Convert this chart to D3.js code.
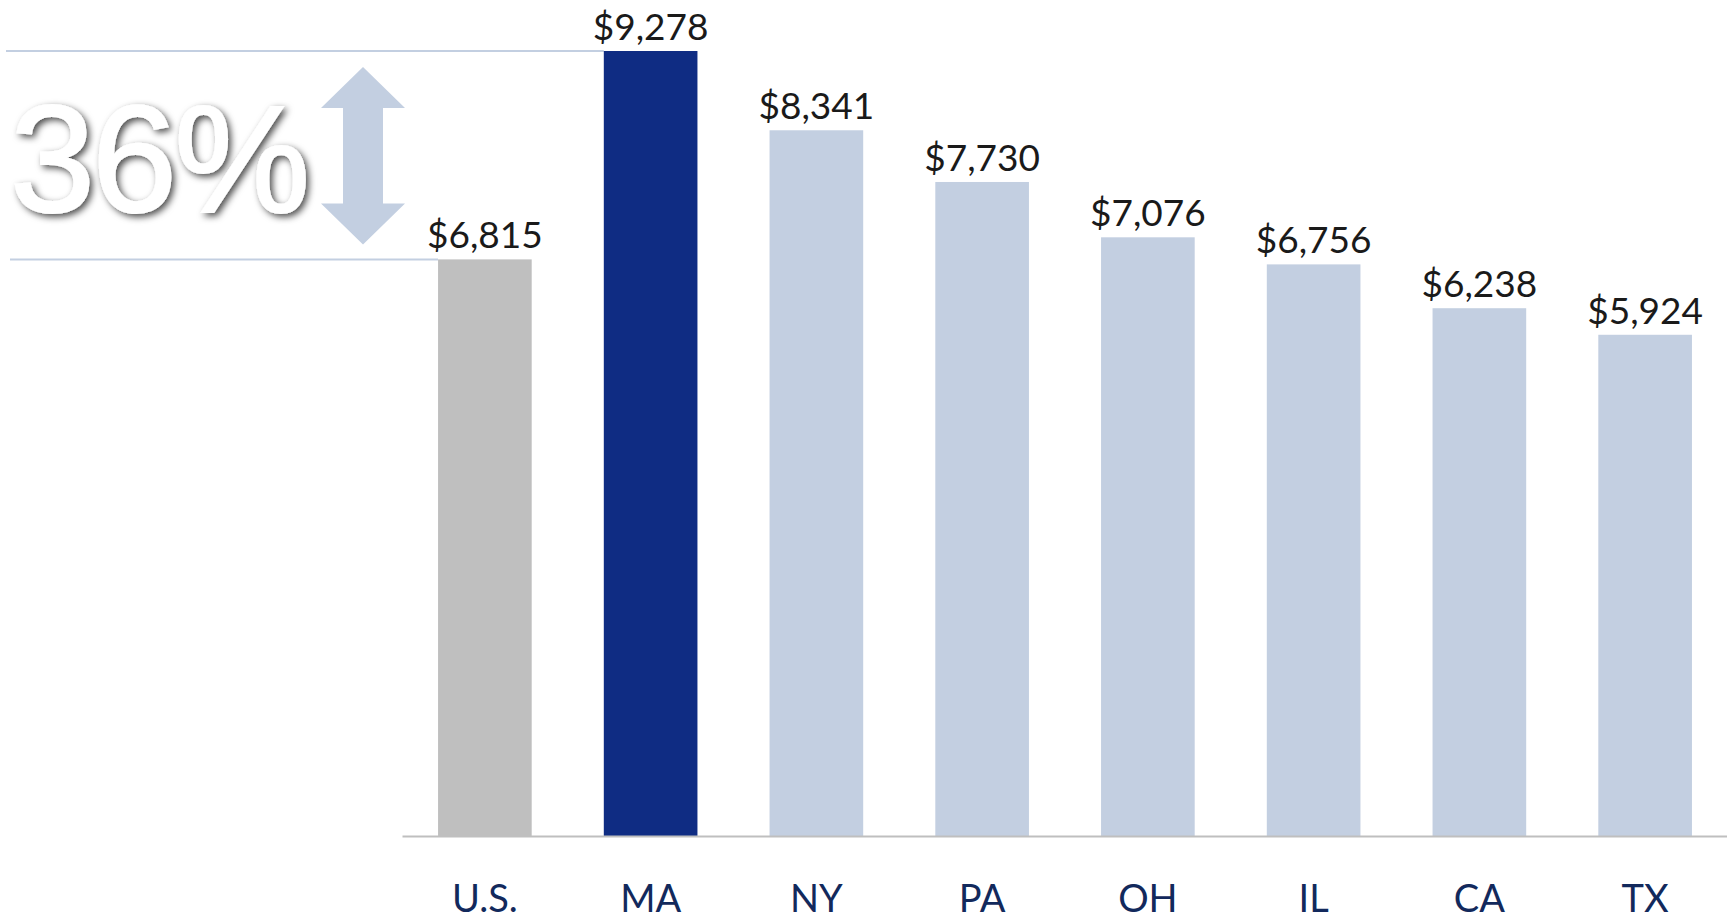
<!DOCTYPE html>
<html>
<head>
<meta charset="utf-8">
<script src="https://cdn.jsdelivr.net/npm/d3@7"></script>
<style>
  html, body { margin: 0; padding: 0; background: #fff; }
  svg { display: block; }
</style>
</head>
<body>
<div class="chart"></div>
<script>
const categories = ["U.S.", "MA", "NY", "PA", "OH", "IL", "CA", "TX"];
const values = [6815, 9278, 8341, 7730, 7076, 6756, 6238, 5924];

const width = 1727;
const height = 920;
const baseY = 836;

const svg = d3.select(".chart")
  .append("svg")
  .attr("width", width)
  .attr("height", height);

// drop shadow for the big percent text
const defs = svg.append("defs");
defs.append("filter")
  .attr("id", "shadow")
  .attr("x", "-10%").attr("y", "-10%")
  .attr("width", "130%").attr("height", "130%")
  .append("feDropShadow")
  .attr("dx", 3).attr("dy", 3)
  .attr("stdDeviation", 3.5)
  .attr("flood-color", "#000")
  .attr("flood-opacity", 0.7);

const x = d3.scaleBand()
  .domain(categories)
  .range([402, 1728])
  .paddingInner(0.435)
  .paddingOuter(0.2175);

const y = d3.scaleLinear()
  .domain([0, d3.max(values)])
  .range([baseY, 51]);

function barColor(c, i) {
  if (i === 0) return "#bfbfbf";
  if (i === 1) return "#0f2c83";
  return "#c3cfe1";
}

const data = categories.map((c, i) => ({ cat: c, val: values[i], i: i }));

// reference lines from the left edge to U.S. and MA bars
const usd = data[0], ma = data[1];
svg.append("line")
  .attr("x1", 6).attr("x2", x(ma.cat))
  .attr("y1", y(ma.val)).attr("y2", y(ma.val))
  .attr("stroke", "#c3cfe1").attr("stroke-width", 2);
svg.append("line")
  .attr("x1", 10).attr("x2", x(usd.cat))
  .attr("y1", y(usd.val)).attr("y2", y(usd.val))
  .attr("stroke", "#c3cfe1").attr("stroke-width", 2);

// bars
svg.selectAll(".bar")
  .data(data)
  .enter().append("rect")
  .attr("class", "bar")
  .attr("x", d => x(d.cat))
  .attr("y", d => y(d.val))
  .attr("width", x.bandwidth())
  .attr("height", d => baseY - y(d.val))
  .attr("fill", d => barColor(d.cat, d.i));

// value labels
const fmt = d3.format("$,");
svg.selectAll(".val")
  .data(data)
  .enter().append("text")
  .attr("class", "val")
  .attr("x", d => x(d.cat) + x.bandwidth() / 2)
  .attr("y", d => y(d.val) - 11)
  .attr("text-anchor", "middle")
  .attr("font-family", "Lato, 'Noto Sans', sans-serif")
  .attr("font-size", 37)
  .attr("fill", "#1a1a1a")
  .text(d => fmt(d.val));

// category axis
const axis = svg.append("g")
  .attr("transform", "translate(0," + baseY + ")")
  .call(d3.axisBottom(x).tickSize(0).tickSizeOuter(0));
axis.select(".domain")
  .attr("stroke", "#bfbfbf")
  .attr("stroke-width", 2);
axis.selectAll("text")
  .attr("y", 76)
  .attr("dy", 0)
  .attr("font-family", "Lato, 'Noto Sans', sans-serif")
  .attr("font-size", 38)
  .attr("fill", "#12295c");

// double arrow between the two reference levels
const ax = 363;
const arrTop = y(ma.val) + 16, arrBot = y(usd.val) - 15;
const headH = 41, headW = 42, shaftW = 20;
const arrowPts = [
  [ax, arrTop], [ax + headW, arrTop + headH], [ax + shaftW, arrTop + headH],
  [ax + shaftW, arrBot - headH], [ax + headW, arrBot - headH], [ax, arrBot],
  [ax - headW, arrBot - headH], [ax - shaftW, arrBot - headH],
  [ax - shaftW, arrTop + headH], [ax - headW, arrTop + headH]
];
svg.append("path")
  .attr("d", d3.line()(arrowPts) + "Z")
  .attr("fill", "#c3cfe1");

// percent gap text
const gap = values[1] / values[0] - 1;
svg.append("text")
  .attr("x", 10)
  .attr("y", 212)
  .attr("font-family", "'Liberation Sans', Arial, sans-serif")
  .attr("font-size", 153)
  .attr("letter-spacing", -3)
  .attr("fill", "#fff")
  .attr("stroke", "#fff")
  .attr("stroke-width", 2)
  .attr("filter", "url(#shadow)")
  .text(d3.format(".0%")(gap));
</script>
</body>
</html>
